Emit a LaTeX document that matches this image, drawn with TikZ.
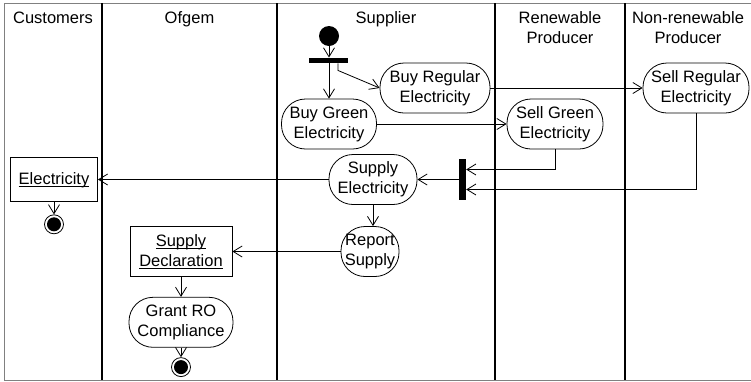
\documentclass[tikz,border=0pt]{standalone}
\usepackage{fontspec}
\setmainfont{Liberation Sans}
\usepackage{tikz}
\usetikzlibrary{arrows.meta, positioning, calc}

\newcommand{\objname}[1]{\underline{\raisebox{0pt}[\height][0pt]{#1}}}

\begin{document}
\begin{tikzpicture}[
    x=1pt, y=-1pt,
    font=\fontsize{16.5}{20}\selectfont,
    lane/.style={line width=1.6pt, black},
    frame/.style={line width=0.8pt, black!50},
    lanelbl/.style={anchor=north, align=center, inner sep=0pt},
    activity/.style={rectangle, draw, rounded corners=24pt,
                  minimum height=50pt, inner sep=1pt,
                  align=center, line width=0.8pt},
    objbox/.style={rectangle, draw, inner sep=2pt,
                  align=center, line width=0.8pt},
    syncbar/.style={rectangle, fill=black, inner sep=0pt},
    startdot/.style={circle, fill=black, minimum size=20pt, inner sep=0pt},
    enddot/.style={circle, draw, line width=0.8pt, minimum size=19pt, inner sep=0pt,
                  path picture={\fill (path picture bounding box.center) circle (7pt);}},
    arr/.style={-{Straight Barb[length=9pt, width=11pt]}, line width=0.8pt},
  ]
    \useasboundingbox (0,0) rectangle (751,381);

    % ── Swimlanes ────────────────────────────────
    \draw[frame] (751,3) -- (4,3) -- (4,380) -- (751,380);
    \draw[lane] (102,3) -- (102,380);
    \draw[lane] (277,3) -- (277,380);
    \draw[lane] (495,3) -- (495,380);
    \draw[lane] (625,3) -- (625,380);

    \node[lanelbl] (hcust) at (53,11.5) {Customers};
    \node[lanelbl] (hofgem) at (189.5,11.5) {Ofgem};
    \node[lanelbl] (hsupp) at (386,11.5) {Supplier};
    \node[lanelbl] (hren) at (560,11.5) {Renewable\\Producer};
    \node[lanelbl] (hnon) at (688,11.5) {Non-renewable\\Producer};

    % ── Buying ───────────────────────────────────
    \node[startdot] (start) at (329,36) {};
    \node[syncbar, minimum width=39pt, minimum height=5.5pt] (fork) at (328.5,60.5) {};
    \node[activity, minimum width=95pt] (buygreen) at (329,124) {Buy Green\\Electricity};
    \node[activity, minimum width=110pt] (buyreg) at (435,88) {Buy Regular\\Electricity};
    \node[activity, minimum width=96pt] (sellgreen) at (555,124) {Sell Green\\Electricity};
    \node[activity, minimum width=106pt] (sellreg) at (696,88) {Sell Regular\\Electricity};

    \draw[arr] (start) -- (start |- fork.north);
    \draw[arr] (buygreen |- fork.south) -- (buygreen);
    \draw[arr] ([xshift=9.5pt]fork.south) -- ++(0,7) -- (buyreg.west);
    \draw[arr] (buyreg) -- (sellreg);
    \draw[arr] (buygreen) -- (sellgreen);

    % ── Supply ───────────────────────────────────
    \node[syncbar, minimum width=7pt, minimum height=41pt] (join) at (462.5,179.5) {};
    \node[activity, minimum width=88pt] (supplyel) at (373,179.5) {Supply\\Electricity};
    \node[objbox, minimum width=87pt, minimum height=44pt] (elec) at (54,179.5) {\objname{Electricity}};
    \node[enddot, below=12.5pt of elec] (endcust) {};

    \draw[arr] (sellgreen) |- ([yshift=10pt]join.east);
    \draw[arr] (sellreg) |- ([yshift=-10pt]join.east);
    \draw[arr] (join) -- (supplyel);
    \draw[arr] (supplyel) -- (elec);
    \draw[arr] (elec) -- (endcust);

    % ── Reporting ────────────────────────────────
    \node[activity, minimum width=58pt] (report) at (370,251.5) {Report\\Supply};
    \node[objbox, minimum width=102pt, minimum height=50pt] (decl) at (181,251.5) {\objname{Supply}\\\objname{Declaration}};
    \node[activity, minimum width=104pt, below=20pt of decl] (grant) {Grant RO\\Compliance};
    \node[enddot, below=9.5pt of grant] (endofgem) {};

    \draw[arr] (supplyel) -- (supplyel |- report.north);
    \draw[arr] (report) -- (decl);
    \draw[arr] (decl) -- (grant);
    \draw[arr] (grant) -- (endofgem);
  \end{tikzpicture}
\end{document}
